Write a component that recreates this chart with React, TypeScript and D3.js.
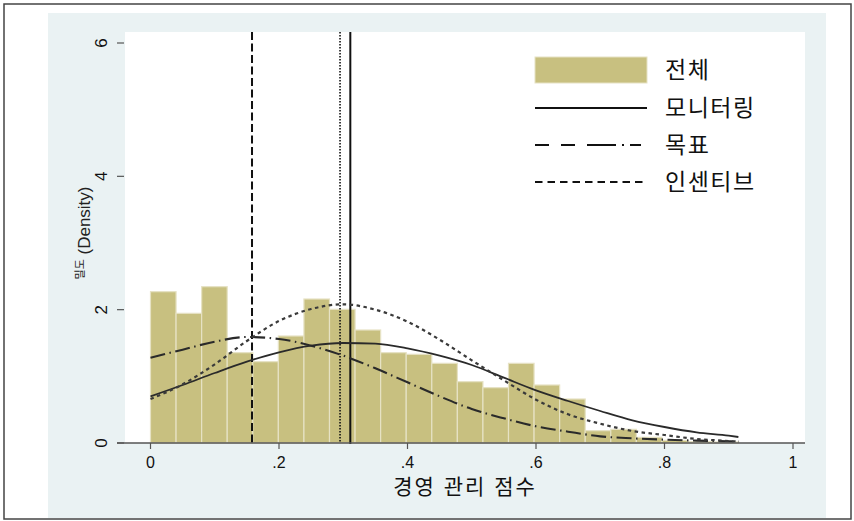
import React from "react";
import * as d3 from "d3";

// histogram of the whole sample (density per bin), bins start at 0
const binStart = 0;
const binWidth = 0.0398;
const binDensity = [
  2.27, 1.945, 2.345, 1.355, 1.22, 1.605, 2.16, 2.005, 1.695, 1.355, 1.33,
  1.195, 0.92, 0.83, 1.195, 0.87, 0.66, 0.185, 0.205, 0.085, 0.04, 0.02, 0.015,
];

// normal density overlays
const curveX = [
  0, 0.05, 0.1, 0.15, 0.2, 0.25, 0.3, 0.35, 0.4, 0.45, 0.5, 0.55, 0.6, 0.65,
  0.7, 0.75, 0.8, 0.85, 0.9, 0.915,
];
const monitoringY = [
  0.7, 0.87, 1.05, 1.22, 1.36, 1.46, 1.5, 1.49, 1.42, 1.31, 1.17, 0.98, 0.79,
  0.63, 0.48, 0.34, 0.24, 0.16, 0.11, 0.09,
];
const goalY = [
  1.28, 1.4, 1.52, 1.59, 1.56, 1.46, 1.31, 1.12, 0.91, 0.7, 0.51, 0.37, 0.25,
  0.17, 0.1, 0.07, 0.05, 0.035, 0.025, 0.02,
];
const incentiveY = [
  0.66, 0.88, 1.18, 1.53, 1.83, 2.01, 2.08, 2.0, 1.82, 1.55, 1.24, 0.94, 0.65,
  0.43, 0.29, 0.18, 0.12, 0.06, 0.03, 0.02,
];

// group means (vertical lines)
const meanMonitoring = 0.311;
const meanGoal = 0.158;
const meanIncentive = 0.295;

const xTicks = [0, 0.2, 0.4, 0.6, 0.8, 1];
const xTickLabels = ["0", ".2", ".4", ".6", ".8", "1"];
const yTicks = [0, 2, 4, 6];
const legendLabels = ["전체", "모니터링", "목표", "인센티브"];

const W = 854;
const H = 521;
const font = "'Liberation Sans', Arial, 'Noto Sans CJK KR', sans-serif";

const goalDash = "15,4.5,1.5,4.5";
const incentiveDash = "3.5,3.5";

export default function App() {
  const x = d3.scaleLinear().domain([0, 1]).range([150.5, 793]);
  const y = d3.scaleLinear().domain([0, 6]).range([443, 43]);

  const line = d3
    .line<number>()
    .x((_, i) => x(curveX[i]))
    .y((d) => y(d))
    .curve(d3.curveMonotoneX);

  const plotL = 125, plotR = 805, plotT = 32, plotB = 443;

  return (
    <svg
      width={W}
      height={H}
      style={{ position: "absolute", left: 0, top: 0, background: "#fff" }}
      fontFamily={font}
    >
      <rect x={4} y={4} width={847} height={515} fill="#fff" stroke="#444" strokeWidth={1.5} />
      <rect x={48} y={13} width={778} height={505} fill="#eaf2f3" />
      <rect x={plotL} y={plotT} width={plotR - plotL} height={plotB - plotT} fill="#fff" />

      {/* histogram */}
      <g>
        {binDensity.map((d, i) => {
          const x0 = x(binStart + i * binWidth);
          const x1 = x(binStart + (i + 1) * binWidth);
          return (
            <rect
              key={i}
              x={x0}
              y={y(d)}
              width={x1 - x0}
              height={y(0) - y(d)}
              fill="#c8c080"
              stroke="#e6e2c4"
              strokeWidth={1.2}
            />
          );
        })}
      </g>

      {/* mean lines */}
      <line x1={x(meanGoal)} x2={x(meanGoal)} y1={plotT} y2={plotB} stroke="#111" strokeWidth={2} strokeDasharray="8,3.5" />
      <line x1={x(meanIncentive)} x2={x(meanIncentive)} y1={plotT} y2={plotB} stroke="#111" strokeWidth={1.6} strokeDasharray="1.5,1.5" />
      <line x1={x(meanMonitoring)} x2={x(meanMonitoring)} y1={plotT} y2={plotB + 1} stroke="#111" strokeWidth={2} />

      {/* density curves */}
      <path d={line(monitoringY) || ""} fill="none" stroke="#2a2a2a" strokeWidth={1.8} />
      <path d={line(goalY) || ""} fill="none" stroke="#2a2a2a" strokeWidth={2.1} strokeDasharray={goalDash} />
      <path d={line(incentiveY) || ""} fill="none" stroke="#3a3a3a" strokeWidth={2.2} strokeDasharray={incentiveDash} />

      {/* x axis */}
      <line x1={117} x2={plotR} y1={plotB} y2={plotB} stroke="#555" strokeWidth={1.5} />
      {xTicks.map((t, i) => (
        <g key={t}>
          <line x1={x(t)} x2={x(t)} y1={plotB} y2={plotB + 6} stroke="#555" strokeWidth={1.2} />
          <text x={x(t)} y={468} textAnchor="middle" fontSize={16} fill="#111">
            {xTickLabels[i]}
          </text>
        </g>
      ))}
      <text x={(plotL + plotR) / 2} y={494} textAnchor="middle" fontSize={21} fill="#111" letterSpacing={2}>
        경영 관리 점수
      </text>

      {/* y axis */}
      {yTicks.map((t) => (
        <g key={t}>
          <line x1={117} x2={124} y1={y(t)} y2={y(t)} stroke="#555" strokeWidth={1.2} />
          <text
            transform={`translate(101,${y(t)}) rotate(-90)`}
            textAnchor="middle"
            dy="0.35em"
            fontSize={17}
            fill="#111"
          >
            {t}
          </text>
        </g>
      ))}
      <text transform="translate(90,233) rotate(-90)" textAnchor="middle" fill="#222">
        <tspan fontSize={11} dy={-6}>밀도</tspan>
        <tspan fontSize={17} dy={6}> (Density)</tspan>
      </text>

      {/* legend */}
      <g>
        <rect x={535} y={57} width={112} height={26} fill="#c8c080" stroke="#e6e2c4" strokeWidth={1} />
        <line x1={535} x2={647} y1={108} y2={108} stroke="#111" strokeWidth={2} />
        <line x1={535} x2={647} y1={145} y2={145} stroke="#111" strokeWidth={2} strokeDasharray="14,12,14,12,29,6,2,6,11" />
        <line x1={535} x2={647} y1={182} y2={182} stroke="#111" strokeWidth={2} strokeDasharray="7.5,5" />
        {legendLabels.map((s, i) => (
          <text key={s} x={665} y={70 + i * 37.3} dy="0.36em" fontSize={23} fill="#111" letterSpacing={1.5}>
            {s}
          </text>
        ))}
      </g>
    </svg>
  );
}
